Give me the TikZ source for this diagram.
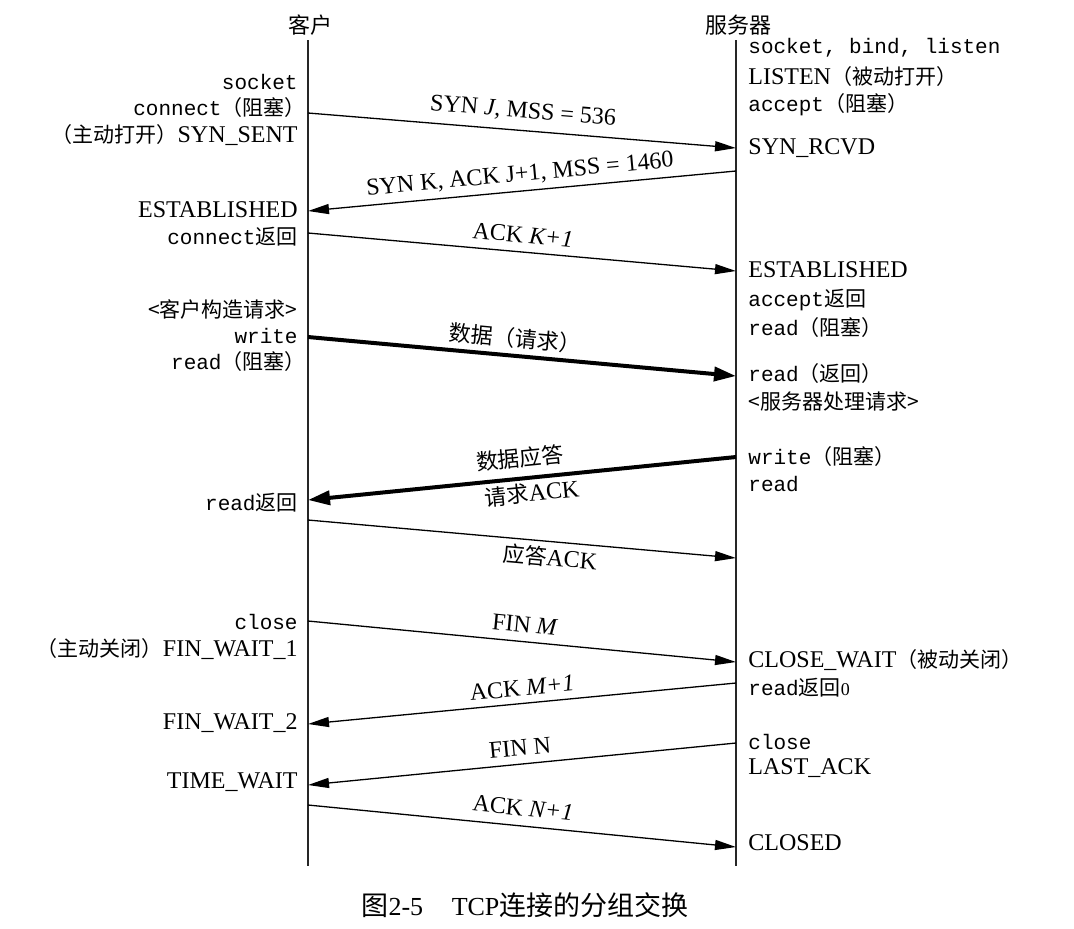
\documentclass[tikz,border=0pt]{standalone}
\usepackage{fontspec}
\setmainfont{Liberation Serif}
\setmonofont{Liberation Mono}
\newfontfamily\zhfont{Noto Sans CJK SC}
\usetikzlibrary{arrows.meta}
\newcommand{\tm}[1]{{\ttfamily\fontsize{10.5}{12}\selectfont #1}}
\newcommand{\zc}[1]{{\zhfont\fontsize{10.5}{12}\selectfont #1}}
\newcommand{\zcb}[1]{{\zhfont\fontsize{11}{13}\selectfont #1}}
\begin{document}
\begin{tikzpicture}[x=0.5pt,y=-0.5pt,
  lifeline/.style={line width=0.8pt, black!85},
  msg/.style={line width=0.65pt, -{Triangle[length=10.5pt,width=5pt]}},
  msgback/.style={line width=0.65pt, {Triangle[length=10.5pt,width=5pt]}-},
  datamsg/.style={line width=2pt, -{Triangle[length=11pt,width=7pt]}},
  datamsgback/.style={line width=2pt, {Triangle[length=11pt,width=7pt]}-},
  head/.style={inner sep=0pt},
  cl/.style={anchor=east, inner sep=0pt, font=\fontsize{12}{14}\selectfont},
  sl/.style={anchor=west, inner sep=0pt, font=\fontsize{12}{14}\selectfont},
  ml/.style={inner sep=0pt, font=\fontsize{12}{14}\selectfont},
]
\useasboundingbox (0,0) rectangle (1074,928);

% headers
\node[head] (client) at (310,25) {\zcb{客户}};
\node[head] (server) at (738,25) {\zcb{服务器}};

% lifelines
\coordinate (ctop) at (308,40);
\coordinate (cbot) at (308,866);
\coordinate (stop) at (736,40);
\coordinate (sbot) at (736,866);
\draw[lifeline] (ctop) -- (cbot);
\draw[lifeline] (stop) -- (sbot);

% client-side labels
\node[cl] (c-socket) at (298,82) {\tm{socket}};
\node[cl] (c-connect) at (306,108) {\tm{connect}\zc{（阻塞）}};
\node[cl] (c-synsent) at (298,135) {\zc{（主动打开）}SYN\_SENT};
\node[cl] (c-est) at (298,210) {ESTABLISHED};
\node[cl] (c-connret) at (298,237) {\tm{connect}\zc{返回}};
\node[cl] (c-build) at (298,309) {\zc{<客户构造请求>}};
\node[cl] (c-write) at (298,336) {\tm{write}};
\node[cl] (c-read) at (306,362) {\tm{read}\zc{（阻塞）}};
\node[cl] (c-readret) at (298,503) {\tm{read}\zc{返回}};
\node[cl] (c-close) at (298,622) {\tm{close}};
\node[cl] (c-fw1) at (298,649) {\zc{（主动关闭）}FIN\_WAIT\_1};
\node[cl] (c-fw2) at (298,723) {FIN\_WAIT\_2};
\node[cl] (c-tw) at (298,782) {TIME\_WAIT};

% server-side labels
\node[sl] (s-sbl) at (748,48) {\tm{socket, bind, listen}};
\node[sl] (s-listen) at (748,77) {LISTEN\zc{（被动打开）}};
\node[sl] (s-accept) at (748,105) {\tm{accept}\zc{（阻塞）}};
\node[sl] (s-synrcvd) at (748,148) {SYN\_RCVD};
\node[sl] (s-est) at (748,270) {ESTABLISHED};
\node[sl] (s-accret) at (748,300) {\tm{accept}\zc{返回}};
\node[sl] (s-readblk) at (748,328) {\tm{read}\zc{（阻塞）}};
\node[sl] (s-readret) at (748,374) {\tm{read}\zc{（返回）}};
\node[sl] (s-proc) at (748,402) {\zc{<服务器处理请求>}};
\node[sl] (s-write) at (748,457) {\tm{write}\zc{（阻塞）}};
\node[sl] (s-read) at (748,484) {\tm{read}};
\node[sl] (s-cw) at (748,660) {CLOSE\_WAIT\zc{（被动关闭）}};
\node[sl] (s-read0) at (748,688) {\tm{read}\zc{返回}{\fontsize{9}{10}\selectfont 0}};
\node[sl] (s-close) at (748,742) {\tm{close}};
\node[sl] (s-lastack) at (748,768) {LAST\_ACK};
\node[sl] (s-closed) at (748,843) {CLOSED};

% message end points
\coordinate (c1) at (308,113);  \coordinate (s1) at (736,148);
\coordinate (s2) at (736,171);  \coordinate (c2) at (308,211);
\coordinate (c3) at (308,233);  \coordinate (s3) at (736,271);
\coordinate (c4) at (308,337);  \coordinate (s4) at (736,376);
\coordinate (s5) at (736,457);  \coordinate (c5) at (308,500);
\coordinate (c6) at (308,520);  \coordinate (s6) at (736,558);
\coordinate (c7) at (308,621);  \coordinate (s7) at (736,662);
\coordinate (s8) at (736,683);  \coordinate (c8) at (308,724);
\coordinate (s9) at (736,743);  \coordinate (c9) at (308,785);
\coordinate (c10) at (308,805); \coordinate (s10) at (736,847);

% messages
\draw[msg] (c1) -- (s1);
\draw[msgback] (c2) -- (s2);
\draw[msg] (c3) -- (s3);
\draw[datamsg] (c4) -- (s4);
\draw[datamsgback] (c5) -- (s5);
\draw[msg] (c6) -- (s6);
\draw[msg] (c7) -- (s7);
\draw[msgback] (c8) -- (s8);
\draw[msgback] (c9) -- (s9);
\draw[msg] (c10) -- (s10);

% message labels
\node[ml, rotate=-4.7] (m1) at (523,112) {SYN \textit{J}, MSS = 536};
\node[ml, rotate=5.3] (m2) at (520,175) {SYN K, ACK J+1, MSS = 1460};
\node[ml, rotate=-5.1] (m3) at (523,235) {ACK \textit{K+1}};
\node[ml, rotate=-5.2] (m4) at (515,338) {\zcb{数据（请求）}};
\node[ml, rotate=5.7] (m5a) at (520,458) {\zcb{数据应答}};
\node[ml, rotate=5.7] (m5b) at (532,493) {\zcb{请求}ACK};
\node[ml, rotate=-5.1] (m6) at (550,557) {\zcb{应答}ACK};
\node[ml, rotate=-5.5] (m7) at (525,625) {FIN \textit{M}};
\node[ml, rotate=5.5] (m8) at (522,688) {ACK \textit{M+1}};
\node[ml, rotate=5.6] (m9) at (520,748) {FIN N};
\node[ml, rotate=-5.6] (m10) at (523,808) {ACK \textit{N+1}};

% caption
\node[inner sep=0pt, font=\fontsize{13}{15}\selectfont] (caption) at (525,905)
  {{\zhfont\fontsize{13.5}{15}\selectfont 图}2-5\hspace{1.1em}TCP{\zhfont\fontsize{13.5}{15}\selectfont 连接的分组交换}};
\end{tikzpicture}
\end{document}
